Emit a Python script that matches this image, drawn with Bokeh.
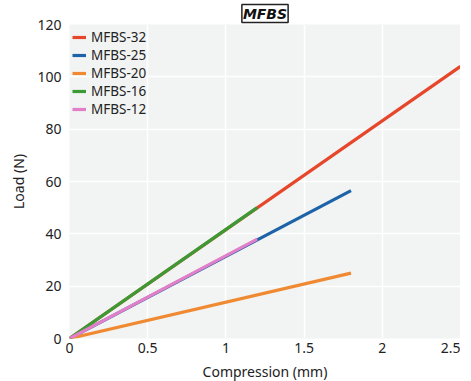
from bokeh.plotting import figure
from bokeh.models import Range1d, FixedTicker, Legend, LegendItem
from bokeh.embed import file_html
from bokeh.resources import INLINE

series_names = ["MFBS-32", "MFBS-25", "MFBS-20", "MFBS-16", "MFBS-12"]
compression_end = [2.5, 1.8, 1.8, 1.2, 1.2]
load_end = [104.0, 56.5, 25.0, 50.0, 38.0]
colors = ["#e6462a", "#1d63a8", "#ef8a33", "#3b9a33", "#e27fc8"]

x_ticks = [0, 0.5, 1, 1.5, 2, 2.5]
x_tick_labels = ["0", "0.5", "1", "1.5", "2", "2.5"]
y_ticks = [0, 20, 40, 60, 80, 100, 120]

FONT = "Noto Sans"

p = figure(frame_width=391, frame_height=314, output_backend="svg", toolbar_location=None,
           x_range=Range1d(0, 2.5), y_range=Range1d(0, 120),
           min_border_left=69, min_border_right=0, min_border_top=23, min_border_bottom=0)

p.background_fill_color = "#f2f4f3"
p.border_fill_color = "white"
p.outline_line_color = None

p.title.text = "MFBS"
p.title.align = "center"
p.title.text_font = "DejaVu Sans"
p.title.text_font_size = "14px"
p.title.text_font_style = "bold italic"
p.title.text_color = "#111111"
p.title.text_line_height = 1.0
p.title.border_line_color = "#222222"
p.title.border_line_width = 1.5
p.title.background_fill_color = "white"
p.title.padding = 1
p.title.standoff = 4

items = []
for name, xe, ye, c in zip(series_names, compression_end, load_end, colors):
    r = p.line([0, xe], [0, ye], line_color=c, line_width=3.2)
    items.append(LegendItem(label=name, renderers=[r]))

legend = Legend(items=items, location=(3, 220))
legend.background_fill_alpha = 0
legend.border_line_color = None
legend.label_text_font = FONT
legend.label_text_font_size = "13.5px"
legend.label_text_color = "#222222"
legend.glyph_width = 14
legend.glyph_height = 12
legend.label_height = 12
legend.spacing = 0
legend.padding = 2
legend.margin = 0
legend.label_standoff = 5
p.add_layout(legend)

for ax in (p.xaxis[0], p.yaxis[0]):
    ax.axis_line_color = None
    ax.major_tick_line_color = None
    ax.minor_tick_line_color = None
    ax.major_label_text_font = FONT
    ax.major_label_text_font_size = "14px"
    ax.major_label_text_color = "#222222"
    ax.axis_label_text_font = FONT
    ax.axis_label_text_font_size = "14px"
    ax.axis_label_text_font_style = "normal"
    ax.axis_label_text_color = "#222222"
    ax.major_label_standoff = 2

p.xaxis.ticker = FixedTicker(ticks=x_ticks)
p.xaxis.major_label_overrides = {t: l for t, l in zip(x_ticks, x_tick_labels)}
p.xaxis.major_label_standoff = -2
p.yaxis.ticker = FixedTicker(ticks=y_ticks)
p.xaxis.axis_label = "Compression (mm)"
p.yaxis.axis_label = "Load (N)"
p.xaxis.axis_label_standoff = 6
p.yaxis.axis_label_standoff = 6

p.xgrid.grid_line_color = "white"
p.ygrid.grid_line_color = "white"
p.xgrid.grid_line_width = 1.5
p.ygrid.grid_line_width = 1.5

open("out.html", "w").write(file_html(p, INLINE))
